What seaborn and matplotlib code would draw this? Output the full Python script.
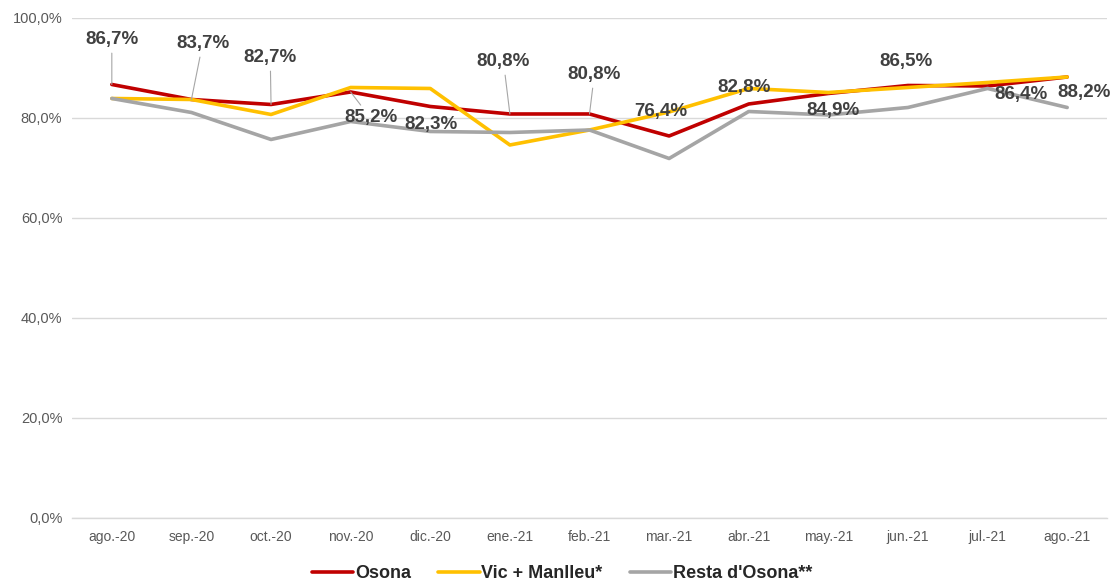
import matplotlib
matplotlib.use("Agg")
import matplotlib.pyplot as plt
import matplotlib.ticker as mticker
from matplotlib.lines import Line2D
import seaborn as sns
import pandas as pd

meses = ["ago.-20", "sep.-20", "oct.-20", "nov.-20", "dic.-20", "ene.-21", "feb.-21",
         "mar.-21", "abr.-21", "may.-21", "jun.-21", "jul.-21", "ago.-21"]
osona = [86.7, 83.7, 82.7, 85.2, 82.3, 80.8, 80.8, 76.4, 82.8, 84.9, 86.5, 86.4, 88.2]
vic_manlleu = [83.9, 83.7, 80.7, 86.1, 85.9, 74.6, 77.6, 81.2, 85.9, 85.1, 86.1, 87.1, 88.2]
resta_osona = [83.9, 81.1, 75.7, 79.3, 77.3, 77.1, 77.6, 71.9, 81.3, 80.6, 82.1, 85.9, 82.1]
series = ["Osona", "Vic + Manlleu*", "Resta d'Osona**"]
colores = ["#C00000", "#FFC000", "#A5A5A5"]

# posiciones de las etiquetas (x en índice de categoría, y en %) y si llevan línea guía
label_xy = [(0, 95.6), (1.14, 94.8), (1.99, 92.0), (3.25, 80.0), (4.01, 78.6),
            (4.92, 91.2), (6.06, 88.6), (6.89, 81.2), (7.94, 86.0), (9.06, 81.4),
            (9.97, 91.2), (11.42, 84.6), (12.21, 85.0)]
guia = [True, True, True, True, False, True, True, False, False, False, False, False, False]

df = pd.DataFrame({
    "mes": meses * 3,
    "valor": osona + vic_manlleu + resta_osona,
    "serie": [series[0]] * 13 + [series[1]] * 13 + [series[2]] * 13,
})

sns.set_theme(style="white")
plt.rcParams["font.family"] = ["Liberation Sans", "DejaVu Sans"]

fig = plt.figure(figsize=(11.13, 5.80), dpi=100)
ax = fig.add_axes([0.0647, 0.1069, 0.9299, 0.8621])

sns.lineplot(data=df, x="mes", y="valor", hue="serie", palette=colores,
             hue_order=series, sort=False, linewidth=2.6, legend=False, ax=ax)

ax.set_xlim(-0.5, 12.5)
ax.set_ylim(0, 100)
ax.set_yticks(range(0, 101, 20))
ax.yaxis.set_major_formatter(mticker.FuncFormatter(lambda v, p: f"{v:.1f}%".replace(".", ",")))
ax.grid(axis="y", color="#D9D9D9", linewidth=1)
ax.grid(axis="x", visible=False)
ax.set_axisbelow(True)
for s in ["top", "right", "left"]:
    ax.spines[s].set_visible(False)
ax.spines["bottom"].set_color("#D9D9D9")
ax.spines["bottom"].set_linewidth(1)
ax.set_xlabel("")
ax.set_ylabel("")
ax.set_xticks(range(13))
ax.set_xticklabels(meses)
ax.set_xticks([i - 0.5 for i in range(14)], minor=True)
ax.tick_params(axis="x", which="major", length=0, pad=9, labelsize=10, labelcolor="#595959")
ax.tick_params(axis="x", which="minor", length=5, color="#D9D9D9", width=1)
ax.tick_params(axis="y", length=0, pad=7, labelsize=10.5, labelcolor="#595959")

for i, v in enumerate(osona):
    txt = f"{v:.1f}%".replace(".", ",")
    props = dict(arrowstyle="-", color="#A6A6A6", lw=0.8, shrinkA=1, shrinkB=0) if guia[i] else None
    ax.annotate(txt, xy=(i, v), xytext=label_xy[i], ha="center", va="center",
                fontsize=13.5, fontweight="bold", color="#404040", arrowprops=props)

handles = [Line2D([0], [0], color=c, lw=2.6) for c in colores]
fig.legend(handles, series, loc="center", bbox_to_anchor=(0.505, 0.011), ncol=3,
           frameon=False, handlelength=2.3, handletextpad=0.1, columnspacing=1.5,
           prop={"weight": "bold", "size": 13})

fig.savefig("out.png", dpi=100)
